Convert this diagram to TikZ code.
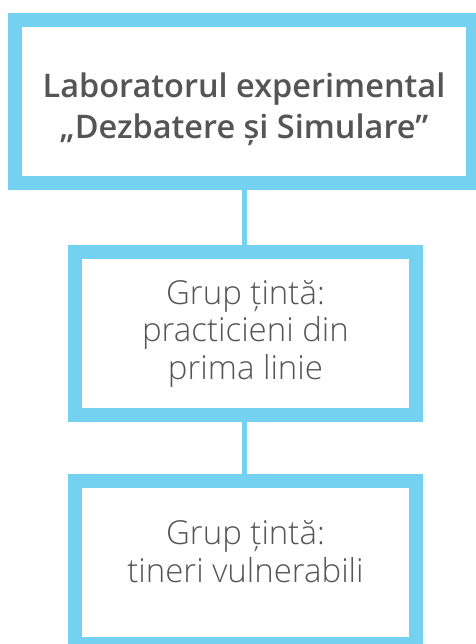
\documentclass[tikz,border=0pt]{standalone}
\usepackage{fontspec}
\setmainfont{Open Sans}
\newfontfamily\headfont{Open Sans Semibold}
\newfontfamily\lightfont{Open Sans Light}
\usepackage{xcolor}
\usetikzlibrary{positioning}
\definecolor{cyanline}{RGB}{116, 210, 240}
\definecolor{greytext}{RGB}{85, 85, 85}
\tikzset{
    boxnode/.style = {draw=cyanline, rectangle, fill=white, line width=14pt, inner sep=0pt,
      node distance=0em, text=greytext},
    headnode/.style = {boxnode, minimum width=458pt, minimum height=163pt,
      font=\headfont\fontsize{32.5}{41}\selectfont},
    groupnode/.style = {boxnode, minimum width=341pt, minimum height=163pt,
      font=\lightfont\fontsize{33}{37.5}\selectfont},
    connect/.style = {cyanline, line width=5pt},
    every text node part/.style={align=center}
}
\newcommand{\shiftline}[2]{\raisebox{#1}[\height][\depth]{#2}}

\begin{document}
\begin{tikzpicture}
    \useasboundingbox (-244pt, 101.5pt) rectangle (231pt, -542.5pt);

    \node [name=lab, headnode] {\shiftline{-8pt}{Laboratorul experimental}\\
        \shiftline{-8pt}{„Dezbatere și Simulare”}};

    \node [name=grup1, groupnode, below of = lab, xshift=1.5pt, yshift=-232pt]
        {Grup țintă:\\practicieni din\\prima linie};
    \node [name=grup2, groupnode, below of = grup1, yshift=-229pt]
        {\shiftline{11pt}{Grup țintă:}\\\shiftline{11pt}{tineri vulnerabili}};

    \draw [connect] (lab.south -| 0,0) -- (grup1.north -| 0,0);
    \draw [connect] (grup1.south -| 0,0) -- (grup2.north -| 0,0);
\end{tikzpicture}
\end{document}
